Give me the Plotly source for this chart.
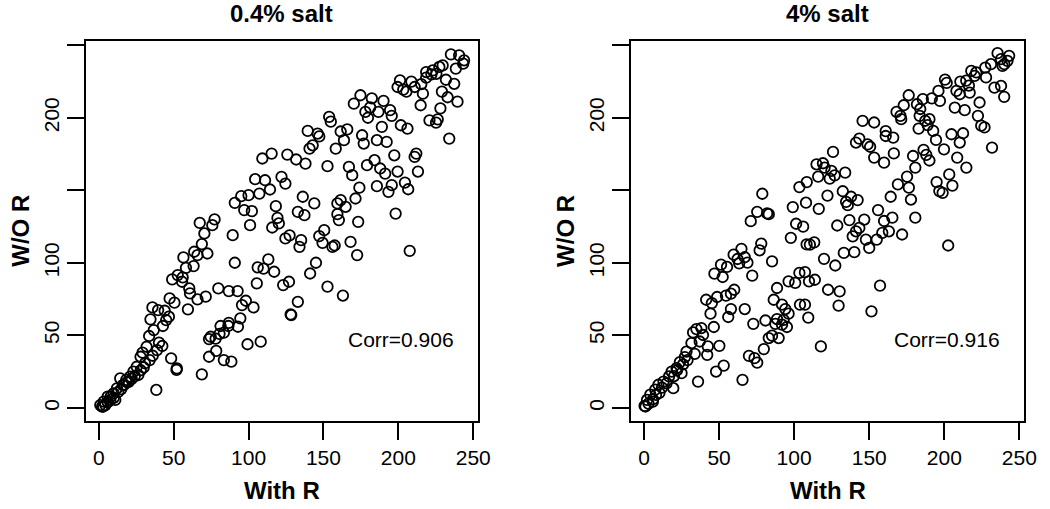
import plotly.graph_objects as go

# ---- data: 0.4% salt (With R, W/O R) ----
low_with_r = [
    109.2, 115.4, 125.9, 104.4, 111, 122, 124.6, 114.3, 107.2, 100, 95.1, 90.8, 97.1, 102.2, 118.2, 119.3, 120.2, 115.8, 101, 67.4, 77.3, 75.8,
    70.5, 68.8, 63.7, 72.5, 65.9, 56.5, 63.3, 58.2, 52.7, 56, 49, 55.6, 60.4, 60.9, 65.9, 71.4, 59.5, 47.3, 50.5, 35.8, 39.6, 44, 46.8, 45,
    34.5, 42.8, 36.7, 33.6, 40.2, 42.4, 38.9, 31.9, 29.2, 27.9, 30.8, 25.3, 23.1, 26.4, 20.9, 18.3, 14.3, 16, 12.1, 9.9, 5.9, 7.7, 3.3, 2.2,
    4.4, 11, 18.7, 38.4, 48.3, 52.1, 51.9, 68.8, 79.8, 86.8, 92.7, 89.4, 90.8, 98.2, 95.6, 103.3, 94.5, 92.9, 86.8, 86.5, 81.3, 83.5, 80.6,
    74.7, 73.6, 78, 78.4, 73.6, 83.5, 88.5, 99.3, 108.1, 105.5, 106.1, 110, 113.2, 117.1, 123.1, 124.6, 127, 128.1, 128.5,
    127.4, 135.1, 134, 147.2, 150.5, 149.4, 156, 157.5, 168.1, 172.5, 173.2, 160.3, 207.6, 145, 141.1, 152.7, 163, 132.9,
    235.1, 240.6, 243.9, 243.3, 238.4, 229.6, 227.4, 223, 218.6, 222.1, 225.4, 218.6, 201.1, 199.5, 203.3, 205.4, 208.7, 210.9, 215.3,
    216.4, 214.9, 231.8, 237.3, 229.1, 232.9, 239.5, 228.1, 220.8, 225.2, 226.3, 234, 174.7, 170.3, 182.3, 190.1, 181.2, 178, 186.7,
    194.5, 195.6, 179.7, 189, 201.7, 206.1, 153.8, 154.9, 139.5, 146.1, 147.2, 161.5, 165.9, 163.7, 175.8, 176.9, 185.7, 192.2, 142.8,
    140.7, 158.2, 131.8, 138, 152.7, 167, 169.2, 179.1, 184.1, 187.9, 191.2, 197.3, 199.5, 210.9, 212, 213.1, 185.7, 195.6, 193.4, 204.4,
    206.6, 174, 171.4, 164.8, 161.5, 159.3, 159.3, 198.2, 136.2, 143.9, 132.9, 137.3,
    1, 3, 6, 8, 10, 13, 15, 17, 20, 22, 24, 28, 30, 34, 36,
]
low_without_r = [
    172, 175.4, 174.7, 157.7, 157, 159.3, 154.7, 150.6, 147.8, 146.7, 146, 141.4, 136.4, 135.7, 139.1, 131, 127.2, 124.4, 126, 127.6, 130, 126,
    120.3, 113, 107.7, 106.5, 105.4, 103.8, 97.8, 96.6, 91.6, 90, 88.6, 87, 82.4, 79, 74.9, 76.7, 68, 75.5, 72.6, 69.3, 67.5, 67, 62.9, 60.6,
    61.1, 56.5, 53.7, 49.6, 45, 42.7, 39.9, 42.2, 38.1, 35.3, 30.8, 28.4, 25, 22.7, 21.6, 19.3, 20.4, 15.8, 13.5, 10.1, 7.8, 5.5, 4.4, 0.9,
    2, 5.5, 17.7, 12.4, 34.2, 27.3, 26.2, 23.2, 82.4, 80.6, 80.6, 119.1, 100.1, 73.9, 70.9, 69.3, 61.8, 56, 58.7, 56.5, 56.5, 51.9, 51.1,
    49.1, 47.5, 47.8, 39.3, 35.3, 33, 31.9, 43.9, 45.7, 85.9, 96.9, 96, 102.4, 93.9, 84.7, 116.9, 87, 64.5, 64,
    119, 115.7, 111.1, 118.5, 122.6, 113.8, 111.1, 112, 114.5, 105.4, 128.3, 129.5, 108.3, 100.1, 92.7, 83.6, 77.5, 73.2,
    243.8, 243.1, 239.7, 237.4, 234, 236.2, 235.1, 232.8, 231.6, 230, 230.4, 227.7, 225.9, 221.3, 219.5, 218.1, 225, 221.3, 223.2,
    216.7, 208.7, 226.3, 223.5, 218.1, 214.2, 211.2, 206.6, 198.3, 196.7, 199, 185.7, 215.6, 209.8, 213.5, 211.7, 207.2, 204.1, 204.1,
    205.3, 201.4, 200.1, 193.8, 194.9, 192.6, 200.7, 197.4, 191, 189.2, 187.2, 190.6, 192.1, 184.6, 188, 182.3, 184.6, 183.4, 181.1,
    178.8, 178.8, 171.3, 168.5, 166.7, 166.2, 160.5, 167.4, 170.8, 165.1, 161.6, 174.2, 163, 173.1, 175.4, 163, 152.9, 153.6, 149, 155.4,
    150.8, 151.9, 144.4, 138.7, 143.3, 141, 133.6, 134, 145.6, 141, 135.2, 132.9,
    2, 1, 4, 8, 7, 11, 13, 16, 18, 20, 22, 26, 28, 33, 36,
]

# ---- data: 4% salt (With R, W/O R) ----
high_with_r = [
    78.8, 75.4, 82, 83.1, 71.1, 103.5, 108.4, 99.1, 107.9, 101.3, 106,
    78.1, 77, 85.3, 97.8, 108.3, 64.9, 59.7, 62.3, 67.1, 68.9, 63.4, 51.3, 55.3, 46.9, 52.4, 72.1, 60.1, 57.9, 54.6, 48.7, 41.4, 45.2,
    44.3, 57.9, 56.1, 67.1, 46.5, 38.2, 34.9, 32.7, 39.3, 31.6, 37.1, 42.5, 50.2, 42.1, 28.3, 33.8, 27.2, 23.9, 21.7, 25, 18.4, 16.7, 13,
    9.6, 19.5, 7.5, 4.2, 2, 0.4, 5.9, 10.3, 53.1, 48, 36, 65.6, 72.8, 69.9, 73.6, 75.4, 79.8, 80.9, 83.1, 85.3, 88.6, 89.7, 91.9, 93, 95.2,
    96.3, 94.1, 91.9, 86.4, 88.6, 96.3, 100.7, 103.5, 107.2, 103.9, 109.4, 87.5,
    110.5, 113.4, 128.7, 136.8, 141.2, 143.4, 139, 147.8, 150, 155, 158.7, 163.1, 159.9, 165.4, 171.9, 180.7, 202.6, 133.1, 140.1, 119.9,
    127.4, 109.9, 113.8, 122.6, 130.3, 129.6, 117.8, 157.2, 151.5, 107.2,
    235.5, 243.2, 242.1, 240, 237.8, 231.1, 227.3, 218, 221.3, 220.2, 227.8, 238.8, 233.4, 237.8, 239.9, 200.5, 201.6, 210.7, 214.6, 216.4,
    208.1, 210.3, 216.9, 196.1, 191.7, 197.1, 185.7, 176.3, 181.8, 184, 173, 168.2, 170.8, 171.3, 207, 213.6, 223.5, 222.4, 224.6, 226.8,
    231.8, 183.6, 187.3, 190.1, 182.9, 192.6, 188.9, 194.5, 204.8, 212.5, 210.3, 199.8, 186.2, 188, 190.1, 208.6, 214.7, 203.3, 205.4,
    194.9, 196.7, 198.9, 145.6, 153.3, 161, 161, 166, 143.4, 141.2, 148.9, 150.6, 153.3, 159.9, 166.4, 179.2, 180.7, 175.2, 169.1, 176.4,
    177.8, 164.3, 155.9, 125.9, 114.9, 119.2, 120.3, 124.8, 127, 123.7, 134, 116, 122.2, 132.4, 137.9, 142.3, 134.6, 135.7, 116.4, 146.7,
    1, 3, 6, 8, 12, 15, 20, 22, 26, 29,
]
high_without_r = [
    147.7, 135.2, 134.1, 133.6, 128.8, 152.3, 155.7, 138.5, 141.5, 127, 125,
    113.3, 108.7, 101.1, 117.3, 112.8, 109.7, 105.7, 102.7, 103.9, 100.2, 99.7, 98.8, 97.2, 92.6, 90.3, 91.2, 81.5, 78.8, 77.4, 76.5, 74.6, 72.3,
    65, 68.2, 62.7, 68.2, 55.8, 55.1, 54.4, 52.1, 50.3, 44.7, 45.8, 42.4, 42.8, 36.6, 38.9, 37.3, 35, 31.6, 27.4, 24, 25.1, 21.7, 18.2,
    16, 13.6, 12.6, 9.2, 5.5, 1.4, 4.4, 10.4, 29.2, 25.1, 18.2, 19.4, 58, 35.9, 34.3, 31.3, 40.6, 60.3, 48.2, 49.8, 61.3, 48.2, 57.4, 60.7, 55.8,
    65, 68.2, 71.3, 74.6, 82.7, 87.3, 86.2, 93.1, 93.6, 71.2, 62.3, 57.9,
    112.6, 114.2, 125.8, 129.5, 121.8, 124.1, 118.3, 116.1, 110.3, 116.1, 120.7, 121.8, 128.9, 131.2, 119.6, 131.2, 112, 106.9, 107.4, 102.8,
    98.2, 87.3, 88.4, 81.5, 80.4, 70.5, 42.4, 84.3, 66.6, 71.2,
    244.6, 242.8, 239.3, 237, 240.5, 237, 234.7, 232.4, 231.3, 229, 227.9, 235.9, 220.9, 222, 214.5, 226.4, 224.1, 225, 225.7, 222.3,
    218.6, 216.3, 217.4, 218.6, 213.4, 211.7, 212.9, 215.6, 209.4, 206.1, 208.7, 204.1, 201.4, 199.1, 207.1, 205.3, 210.6, 201.4, 194.6, 193.4,
    179.5, 201.4, 198, 199.1, 192.6, 191, 195, 184.8, 188.7, 189.4, 183, 178.3, 177.9, 174.5, 170.6, 172.6, 165.7, 161, 153.3,
    155.7, 149.5, 148.3, 197.9, 196.8, 190.9, 187.5, 186.4, 185.7, 183, 181.7, 180.1, 172.6, 169.1, 175.5, 173.7, 165.7, 159.5, 154.2, 151.9,
    143.7, 145.6, 136.4, 176.5, 168, 168.7, 165.7, 163.5, 160.4, 158.1, 162.2, 159.5, 146.4, 149.4, 145.6, 143.3, 142.1, 139.8, 137.3, 129.9,
    1, 3, 6, 9, 14, 17, 22, 26, 30, 33,
]

panel_titles = ["0.4% salt", "4% salt"]
corr_labels = ["Corr=0.906", "Corr=0.916"]
x_ticks = [0, 50, 100, 150, 200, 250]
y_ticks = [0, 50, 100, 150, 200, 250]
y_tick_text = ["0", "50", "100", "", "200", ""]
x_title = "With R"
y_title = "W/O R"

FONT = "Liberation Sans, Arial, Helvetica, sans-serif"
W, H = 1050, 509

fig = go.Figure()
marker = dict(symbol="circle-open", size=10.5, color="black", line=dict(width=1.8, color="black"))
fig.add_trace(go.Scatter(x=low_with_r, y=low_without_r, mode="markers", marker=marker,
                         xaxis="x", yaxis="y", showlegend=False, hoverinfo="skip"))
fig.add_trace(go.Scatter(x=high_with_r, y=high_without_r, mode="markers", marker=marker,
                         xaxis="x2", yaxis="y2", showlegend=False, hoverinfo="skip"))

domains_x = [(87 / W, 484 / W), (639 / W, 1037 / W)]
dom_y = ((509 - 421) / H, (509 - 41) / H)

axis_common = dict(
    showline=True, linecolor="black", linewidth=2, mirror=True,
    ticks="outside", ticklen=17, tickwidth=2, tickcolor="black",
    showgrid=False, zeroline=False,
    tickfont=dict(family=FONT, size=21, color="black"),
)

layout = dict(
    width=W, height=H,
    margin=dict(l=0, r=0, t=0, b=0),
    paper_bgcolor="white", plot_bgcolor="white",
    showlegend=False,
)
for i, (suffix, dx) in enumerate(zip(["", "2"], domains_x)):
    layout["xaxis" + suffix] = dict(axis_common, domain=list(dx), range=[-8.6, 253.2],
                                    tickvals=x_ticks, anchor="y" + suffix)
    layout["yaxis" + suffix] = dict(axis_common, domain=list(dom_y), range=[-9, 253],
                                    tickvals=y_ticks, ticktext=y_tick_text, tickangle=-90,
                                    anchor="x" + suffix)
fig.update_layout(**layout)

annotations = []
for i, dx in enumerate(domains_x):
    cx = (dx[0] + dx[1]) / 2
    annotations.append(dict(text="<b>%s</b>" % panel_titles[i], x=cx, y=1 - 14 / H, xref="paper", yref="paper",
                            showarrow=False, xanchor="center", yanchor="middle",
                            font=dict(family=FONT, size=24, color="black")))
    annotations.append(dict(text="<b>%s</b>" % x_title, x=cx, y=1 - 490 / H, xref="paper", yref="paper",
                            showarrow=False, xanchor="center", yanchor="middle",
                            font=dict(family=FONT, size=24, color="black")))
    ylab_x = (20 if i == 0 else 572) / W
    annotations.append(dict(text="<b>%s</b>" % y_title, x=ylab_x, y=(dom_y[0] + dom_y[1]) / 2,
                            xref="paper", yref="paper", textangle=-90,
                            showarrow=False, xanchor="center", yanchor="middle",
                            font=dict(family=FONT, size=24, color="black")))
    axref = "x" if i == 0 else "x2"
    ayref = "y" if i == 0 else "y2"
    annotations.append(dict(text=corr_labels[i], x=202, y=47.5, xref=axref, yref=ayref,
                            showarrow=False, xanchor="center", yanchor="middle",
                            font=dict(family=FONT, size=21, color="black")))
fig.update_layout(annotations=annotations)

fig.write_html("out.html",
               config={"displayModeBar": False},
               post_script="document.body.style.margin='0';document.body.style.padding='0';"
                           "document.documentElement.style.overflow='hidden';")
